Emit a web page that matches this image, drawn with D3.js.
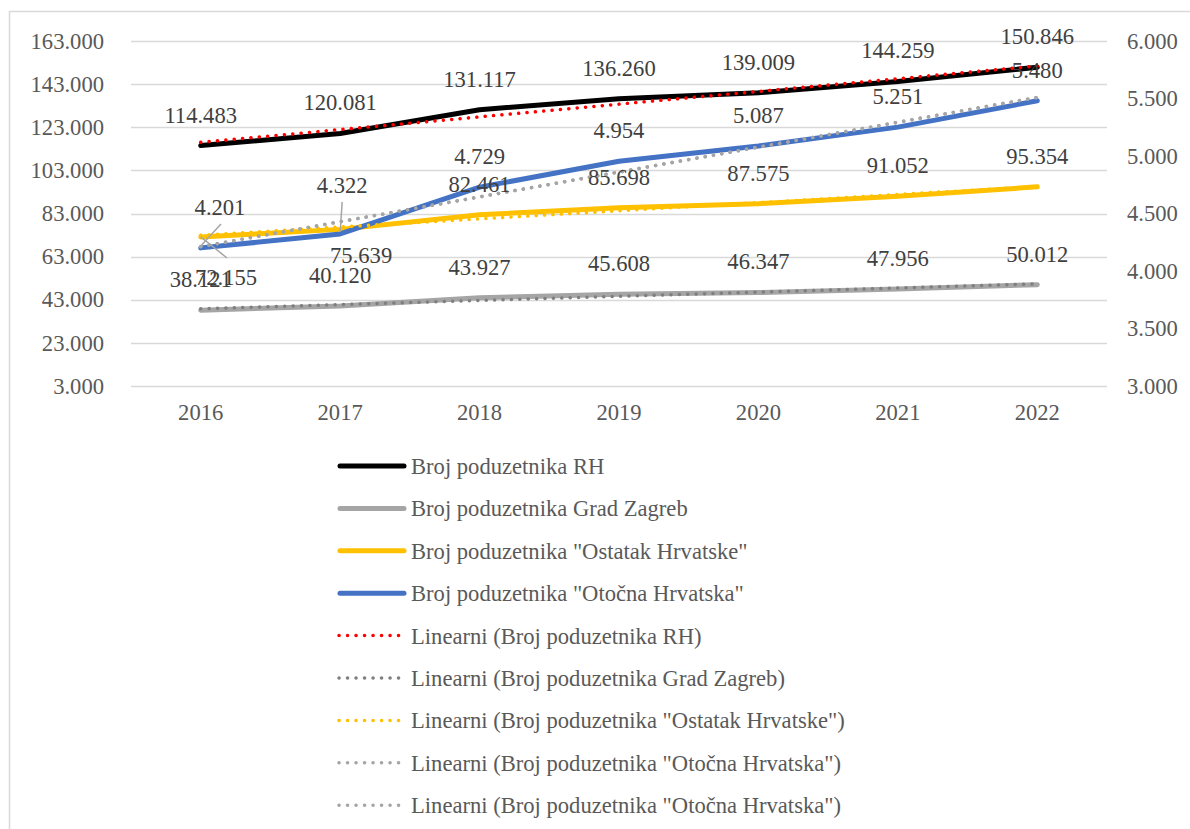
<!DOCTYPE html>
<html>
<head>
<meta charset="utf-8">
<script src="https://cdn.jsdelivr.net/npm/d3@7"></script>
</head>
<body style="margin:0;background:#fff">
<div id="chart"></div>
<script>
// values
var years = ['2016', '2017', '2018', '2019', '2020', '2021', '2022'];
var rh = [114483, 120081, 131117, 136260, 139009, 144259, 150846];
var zagreb = [38121, 40120, 43927, 45608, 46347, 47956, 50012];
var ostatak = [72155, 75639, 82461, 85698, 87575, 91052, 95354];
var otocna = [4201, 4322, 4729, 4954, 5087, 5251, 5480];
var leftTicks = [3000, 23000, 43000, 63000, 83000, 103000, 123000, 143000, 163000];
var rightTicks = [3000, 3500, 4000, 4500, 5000, 5500, 6000];

var width = 1190, height = 829;
var fontFamily = '"Liberation Serif"';
var fontSize = 22.6;
var textColor = '#595959';
var labelColor = '#404040';

var hr = d3.formatLocale({decimal: ',', thousands: '.', grouping: [3], currency: ['', '']});
var fmt = hr.format(',.0f');

var svg = d3.select('#chart')
  .append('svg')
  .attr('width', width)
  .attr('height', height);

svg.append('rect')
  .attr('width', width).attr('height', height).attr('fill', '#fff');

// chart frame
svg.append('rect')
  .attr('x', 9.5).attr('y', 11.5)
  .attr('width', width).attr('height', height)
  .attr('fill', 'none').attr('stroke', '#d9d9d9').attr('stroke-width', 1.5);

var x = d3.scaleBand().domain(years).range([131, 1107]);
var cx = function(d) { return x(d) + x.bandwidth() / 2; };
var yL = d3.scaleLinear().domain([3000, 163000]).range([386, 41]);
var yR = d3.scaleLinear().domain([3000, 6000]).range([386, 41]);

// gridlines
svg.append('g').selectAll('line')
  .data(leftTicks)
  .enter()
  .append('line')
  .attr('x1', 131).attr('x2', 1107)
  .attr('y1', function(d) { return Math.round(yL(d)) + 0.5; })
  .attr('y2', function(d) { return Math.round(yL(d)) + 0.5; })
  .attr('stroke', '#d9d9d9')
  .attr('stroke-width', 1.5);

// axes
function styleAxis(g) {
  g.attr('font-family', null).attr('font-size', null);
  g.select('.domain').remove();
  g.selectAll('text')
    .attr('fill', textColor)
    .style('font-family', fontFamily)
    .style('font-size', fontSize + 'px');
}

svg.append('g')
  .attr('transform', 'translate(131,0)')
  .call(d3.axisLeft(yL).tickValues(leftTicks).tickSize(0).tickPadding(27).tickFormat(fmt))
  .call(styleAxis);

svg.append('g')
  .attr('transform', 'translate(1107,0)')
  .call(d3.axisRight(yR).tickValues(rightTicks).tickSize(0).tickPadding(20).tickFormat(fmt))
  .call(styleAxis);

svg.append('g')
  .attr('transform', 'translate(0,386)')
  .call(d3.axisBottom(x).tickSize(0).tickPadding(0))
  .call(styleAxis)
  .selectAll('text')
  .attr('y', 26)
  .attr('dy', '0.35em');

// linear trend (least squares over category index)
function trend(values) {
  var n = values.length;
  var mx = d3.mean(values, function(v, i) { return i; });
  var my = d3.mean(values);
  var sxy = d3.sum(values, function(v, i) { return (i - mx) * (v - my); });
  var sxx = d3.sum(values, function(v, i) { return (i - mx) * (i - mx); });
  var b = sxy / sxx, a = my - b * mx;
  return [a, a + b * (n - 1)];
}

var series = [
  {name: 'Broj poduzetnika RH', values: rh, y: yL, color: '#000000'},
  {name: 'Broj poduzetnika Grad Zagreb', values: zagreb, y: yL, color: '#a5a5a5'},
  {name: 'Broj poduzetnika "Ostatak Hrvatske"', values: ostatak, y: yL, color: '#ffc000'},
  {name: 'Broj poduzetnika "Otočna Hrvatska"', values: otocna, y: yR, color: '#4472c4'}
];
var trends = [
  {name: 'Linearni (Broj poduzetnika RH)', src: 0, color: '#ff0000'},
  {name: 'Linearni (Broj poduzetnika Grad Zagreb)', src: 1, color: '#7f7f7f'},
  {name: 'Linearni (Broj poduzetnika "Ostatak Hrvatske")', src: 2, color: '#ffc000'},
  {name: 'Linearni (Broj poduzetnika "Otočna Hrvatska")', src: 3, color: '#a5a5a5'},
  {name: 'Linearni (Broj poduzetnika "Otočna Hrvatska")', src: 3, color: '#a5a5a5'}
];

var plot = svg.append('g');

series.forEach(function(s) {
  var line = d3.line()
    .x(function(d, i) { return cx(years[i]); })
    .y(function(d) { return s.y(d); });
  plot.append('path')
    .datum(s.values)
    .attr('d', line)
    .attr('fill', 'none')
    .attr('stroke', s.color)
    .attr('stroke-width', 5)
    .attr('stroke-linejoin', 'round')
    .attr('stroke-linecap', 'round');
});

trends.forEach(function(t) {
  var s = series[t.src];
  var ends = trend(s.values);
  plot.append('line')
    .attr('x1', cx(years[0]))
    .attr('x2', cx(years[years.length - 1]))
    .attr('y1', s.y(ends[0]))
    .attr('y2', s.y(ends[1]))
    .attr('stroke', t.color)
    .attr('stroke-width', 3.5)
    .attr('stroke-linecap', 'round')
    .attr('stroke-dasharray', '0.1 8.3');
});

// data labels; a few were moved by hand in the original
var nudges = {
  '2-0': {x: 226, y: 277, leader: true},
  '2-1': {dx: 21, dy: 26},
  '3-0': {x: 220, y: 207, leader: true},
  '3-1': {dx: 2, dy: -49, leader: true}
};

var labels = svg.append('g');
series.forEach(function(s, si) {
  s.values.forEach(function(v, i) {
    var px = cx(years[i]), py = s.y(v);
    var lx = px, ly = py - 31;
    var n = nudges[si + '-' + i];
    if (n) {
      if (n.x !== undefined) { lx = n.x; ly = n.y; }
      else { lx = px + n.dx; ly = py + n.dy; }
      if (n.leader) {
        var below = ly > py;
        var ex = lx + (n.x !== undefined ? 1 : 0);
        labels.append('line')
          .attr('x1', ex)
          .attr('y1', below ? ly - 19 : ly + 17)
          .attr('x2', px)
          .attr('y2', py + (below ? 0 : -2))
          .attr('stroke', '#a5a5a5')
          .attr('stroke-width', 1.5);
      }
    }
    labels.append('text')
      .attr('x', lx)
      .attr('y', ly)
      .attr('dy', '0.35em')
      .attr('text-anchor', 'middle')
      .attr('fill', labelColor)
      .style('font-family', fontFamily)
      .style('font-size', fontSize + 'px')
      .text(fmt(v));
  });
});

// legend
var legendItems = series.map(function(s) {
  return {name: s.name, color: s.color, dotted: false};
}).concat(trends.map(function(t) {
  return {name: t.name, color: t.color, dotted: true};
}));

var legend = svg.selectAll('.legend')
  .data(legendItems)
  .enter()
  .append('g')
  .attr('class', 'legend')
  .attr('transform', function(d, i) {
    return 'translate(0,' + (466 + i * 42.4) + ')';
  });

legend.append('line')
  .attr('x1', function(d) { return d.dotted ? 339 : 340; })
  .attr('x2', 404)
  .attr('y1', 0).attr('y2', 0)
  .attr('stroke', function(d) { return d.color; })
  .attr('stroke-width', function(d) { return d.dotted ? 3.5 : 5; })
  .attr('stroke-linecap', 'round')
  .attr('stroke-dasharray', function(d) { return d.dotted ? '0.1 8.4' : null; });

legend.append('text')
  .attr('x', 411)
  .attr('y', 0)
  .attr('dy', '0.35em')
  .attr('fill', textColor)
  .style('font-family', fontFamily)
  .style('font-size', fontSize + 'px')
  .text(function(d) { return d.name; });
</script>
</body>
</html>
